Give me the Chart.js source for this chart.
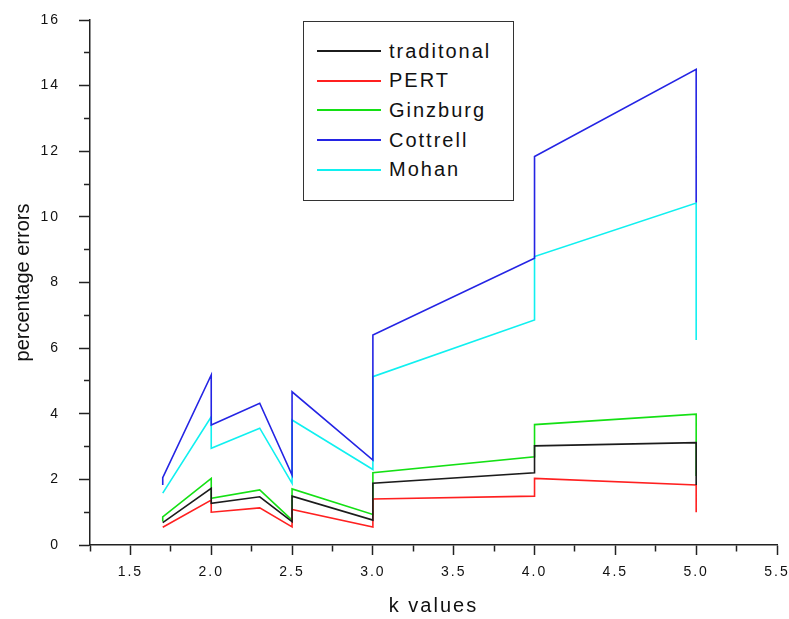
<!DOCTYPE html>
<html>
<head>
<meta charset="utf-8">
<script src="https://cdn.jsdelivr.net/npm/chart.js@4/dist/chart.umd.min.js"></script>
<style>
  html, body { margin: 0; padding: 0; background: #fff; }
  #wrap { position: relative; width: 789px; height: 619px; }
  #legend {
    position: absolute; left: 303px; top: 21px; width: 209px; height: 178px;
    border: 1.5px solid #333; background: #fff; box-sizing: content-box;
    font-family: "Liberation Sans", Arial, sans-serif; font-size: 20px; letter-spacing: 2px; color: #111;
  }
  .item { position: absolute; left: 13px; height: 24px; display: flex; align-items: center; }
  .swatch { width: 64px; height: 0; border-top: 2px solid; margin-right: 8px; }
</style>
</head>
<body>
<div id="wrap">
  <canvas id="c" width="789" height="619"></canvas>
  <div id="legend"></div>
</div>
<script>
// k values (x) for every series; repeated x = vertical jump in the line
const kValues   = [1.7, 1.7, 2.0, 2.0, 2.3, 2.5, 2.5, 3.0, 3.0, 4.0, 4.0, 5.0, 5.0];
const traditional = [0.68, 0.68, 1.73, 1.27, 1.47, 0.71, 1.49, 0.76, 1.88, 2.20, 3.02, 3.12, 1.83];
const pert        = [0.54, 0.54, 1.37, 1.00, 1.13, 0.55, 1.08, 0.55, 1.40, 1.49, 2.03, 1.83, 1.00];
const ginzburg    = [0.72, 0.86, 2.03, 1.42, 1.68, 0.76, 1.71, 0.93, 2.20, 2.69, 3.67, 3.99, 2.10];
const cottrell    = [1.83, 2.05, 5.18, 3.66, 4.32, 2.13, 4.67, 2.59, 6.40, 8.74, 11.84, 14.50, 10.44];
const mohan       = [1.58, 1.58, 3.91, 2.95, 3.56, 1.88, 3.81, 2.30, 5.13, 6.86, 8.79, 10.42, 6.25];

const seriesLabels = ['traditonal', 'PERT', 'Ginzburg', 'Cottrell', 'Mohan'];
const seriesValues = [traditional, pert, ginzburg, cottrell, mohan];
const seriesColors = ['#1c1c1c', '#ff2020', '#14e014', '#2424e4', '#10f0f0'];

const xMin = 1.25, xMax = 5.5, xStep = 0.25;
const yMin = 0, yMax = 16, yStep = 1;
const xTitle = 'k values';
const yTitle = 'percentage errors';

const datasets = seriesValues.map((vals, i) => ({
  label: seriesLabels[i],
  data: vals.map((v, j) => ({ x: kValues[j], y: v })),
  borderColor: seriesColors[i],
  backgroundColor: seriesColors[i],
  borderWidth: 1.6,
  pointRadius: 0,
  tension: 0,
  fill: false
}));

const spacing = {
  id: 'spacing',
  beforeLayout(chart) { chart.ctx.letterSpacing = '2px'; },
  beforeDraw(chart) { chart.ctx.letterSpacing = '2px'; }
};

const axisColor = '#222';
const fontFam = '"Liberation Sans", Arial, sans-serif';

new Chart(document.getElementById('c'), {
  type: 'line',
  data: { datasets },
  plugins: [spacing],
  options: {
    responsive: false,
    animation: false,
    events: [],
    layout: { padding: { top: 20, right: 12, bottom: 0, left: 0 } },
    plugins: { legend: { display: false }, tooltip: { enabled: false } },
    scales: {
      x: {
        type: 'linear', position: 'bottom', min: xMin, max: xMax,
        afterFit: s => { s.height = 74; s.paddingRight = 0; s.paddingLeft = 0; },
        ticks: {
          stepSize: xStep, autoSkip: false, maxRotation: 0, padding: 9,
          color: '#111', font: { family: fontFam, size: 14 },
          callback: v => (Math.abs(v * 2 - Math.round(v * 2)) < 1e-9 ? v.toFixed(1) : '')
        },
        grid: {
          drawOnChartArea: false, tickLength: 10, tickColor: axisColor, tickWidth: 1.5,
          tickBorderDash: ctx => (ctx.tick && Math.abs(ctx.tick.value * 2 - Math.round(ctx.tick.value * 2)) > 1e-9 ? [6, 100] : [])
        },
        border: { display: true, color: axisColor, width: 1.5 },
        title: { display: true, text: xTitle, color: '#111', font: { family: fontFam, size: 20 }, padding: { top: 4, bottom: 1 } }
      },
      y: {
        type: 'linear', position: 'left', min: yMin, max: yMax,
        afterFit: s => {
          s.width = 90; s.paddingTop = 0; s.paddingBottom = 0;
          if (!s._plainTitle) {
            const orig = s.drawTitle;
            s.drawTitle = function () {
              const c = this.ctx, prev = c.letterSpacing;
              c.letterSpacing = '0px';
              orig.apply(this, arguments);
              c.letterSpacing = prev;
            };
            s._plainTitle = true;
          }
        },
        ticks: {
          stepSize: yStep, autoSkip: false, padding: 19,
          color: '#111', font: { family: fontFam, size: 14 },
          callback: v => (v % 2 === 0 ? String(v) : '')
        },
        grid: {
          drawOnChartArea: false, tickLength: 11, tickColor: axisColor, tickWidth: 1.5,
          tickBorderDash: ctx => (ctx.tick && ctx.tick.value % 2 !== 0 ? [0, 5, 6, 100] : [])
        },
        border: { display: true, color: axisColor, width: 1.5 },
        title: { display: true, text: yTitle, color: '#111', font: { family: fontFam, size: 20 }, padding: { top: 11, bottom: 0 } }
      }
    }
  }
});

// HTML legend built from the same series arrays
const legend = document.getElementById('legend');
seriesLabels.forEach((lab, i) => {
  const it = document.createElement('div');
  it.className = 'item';
  it.style.top = (17 + i * 29.7) + 'px';
  const sw = document.createElement('span');
  sw.className = 'swatch';
  sw.style.borderTopColor = seriesColors[i];
  const tx = document.createElement('span');
  tx.textContent = lab;
  it.appendChild(sw); it.appendChild(tx);
  legend.appendChild(it);
});
</script>
</body>
</html>
